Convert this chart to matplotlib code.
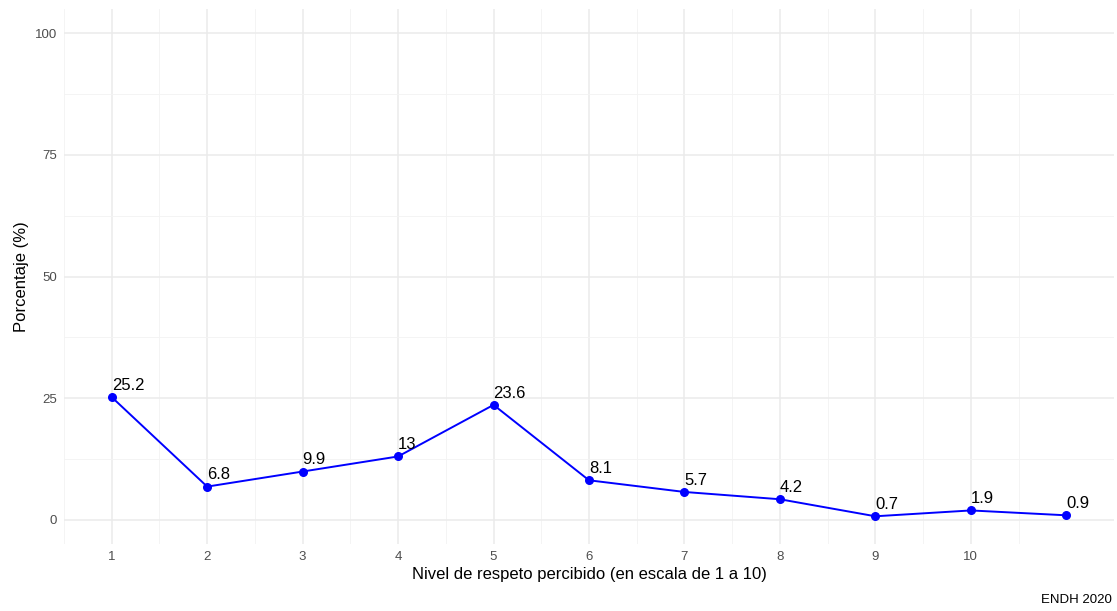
# Library imports
import numpy as np
import matplotlib.pyplot as plt


# Data
niveles = [1, 2, 3, 4, 5, 6, 7, 8, 9, 10, 11]
porcentajes = [25.2, 6.8, 9.9, 13, 23.6, 8.1, 5.7, 4.2, 0.7, 1.9, 0.9]
x_ticks = [1, 2, 3, 4, 5, 6, 7, 8, 9, 10]
y_ticks = [0, 25, 50, 75, 100]

plt.rcParams['font.family'] = ['Liberation Sans', 'DejaVu Sans']

figure = plt.figure(figsize=(11.17, 6.11), dpi=100)
axis = figure.add_axes([64 / 1117, 67 / 611, 1050 / 1117, 535 / 611])

axis.plot(niveles, porcentajes, color='blue', linewidth=1.4, zorder=3)
axis.scatter(niveles, porcentajes, color='blue', s=30, zorder=4)

for x, y in zip(niveles, porcentajes):
    axis.annotate('{:g}'.format(y), (x, y), xytext=(0, 3), textcoords='offset points',
                  ha='left', va='bottom', fontsize=12, color='black')

axis.set_xlim(0.5, 11.5)
axis.set_ylim(-5, 105)
axis.set_xticks(x_ticks)
axis.set_xticks(np.arange(0.5, 11.0, 1.0), minor=True)
axis.set_yticks(y_ticks)
axis.set_yticks([12.5, 37.5, 62.5, 87.5], minor=True)

axis.grid(which='major', color='#ebebeb', linewidth=1.1)
axis.grid(which='minor', color='#f3f3f3', linewidth=0.6)
axis.set_axisbelow(True)

for spine in axis.spines.values():
    spine.set_visible(False)
axis.tick_params(which='both', length=0)
axis.tick_params(axis='both', labelsize=9.5, labelcolor='#4d4d4d', pad=5)

axis.set_xlabel('Nivel de respeto percibido (en escala de 1 a 10)', fontsize=12, labelpad=3)
axis.set_ylabel('Porcentaje (%)', fontsize=12, labelpad=4)

figure.text(1112 / 1117, 5 / 611, 'ENDH 2020', ha='right', va='bottom', fontsize=9.5)

plt.savefig('out.png', dpi=100)
